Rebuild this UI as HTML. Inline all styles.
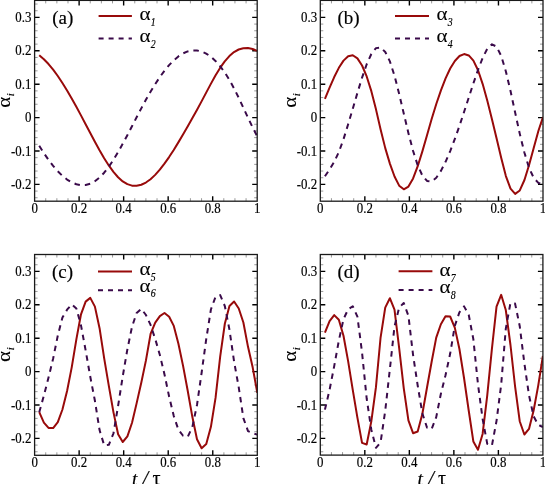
<!DOCTYPE html><html><head><meta charset="utf-8"><style>html,body{margin:0;padding:0;background:#fff;overflow:hidden}svg{display:block}text{font-family:"Liberation Serif",serif;fill:#000}.tk{stroke:#000;stroke-width:0.18px}.lb{stroke:#000;stroke-width:0.08px}</style></head><body>
<svg width="545" height="484" viewBox="0 0 545 484">
<rect width="545" height="484" fill="#fff"/>
<g><clipPath id="clipa"><rect x="34.6" y="0.4" width="222.60" height="200.80"/></clipPath><path d="M45.73,201.2v-3M45.73,0.4v3M56.86,201.2v-3M56.86,0.4v3M67.99,201.2v-3M67.99,0.4v3M90.25,201.2v-3M90.25,0.4v3M101.38,201.2v-3M101.38,0.4v3M112.51,201.2v-3M112.51,0.4v3M134.77,201.2v-3M134.77,0.4v3M145.90,201.2v-3M145.90,0.4v3M157.03,201.2v-3M157.03,0.4v3M179.29,201.2v-3M179.29,0.4v3M190.42,201.2v-3M190.42,0.4v3M201.55,201.2v-3M201.55,0.4v3M223.81,201.2v-3M223.81,0.4v3M234.94,201.2v-3M234.94,0.4v3M246.07,201.2v-3M246.07,0.4v3M34.6,197.76h3M257.2,197.76h-3M34.6,191.08h3M257.2,191.08h-3M34.6,177.72h3M257.2,177.72h-3M34.6,171.04h3M257.2,171.04h-3M34.6,164.36h3M257.2,164.36h-3M34.6,157.68h3M257.2,157.68h-3M34.6,144.32h3M257.2,144.32h-3M34.6,137.64h3M257.2,137.64h-3M34.6,130.96h3M257.2,130.96h-3M34.6,124.28h3M257.2,124.28h-3M34.6,110.92h3M257.2,110.92h-3M34.6,104.24h3M257.2,104.24h-3M34.6,97.56h3M257.2,97.56h-3M34.6,90.88h3M257.2,90.88h-3M34.6,77.52h3M257.2,77.52h-3M34.6,70.84h3M257.2,70.84h-3M34.6,64.16h3M257.2,64.16h-3M34.6,57.48h3M257.2,57.48h-3M34.6,44.12h3M257.2,44.12h-3M34.6,37.44h3M257.2,37.44h-3M34.6,30.76h3M257.2,30.76h-3M34.6,24.08h3M257.2,24.08h-3M34.6,10.72h3M257.2,10.72h-3M34.6,4.04h3M257.2,4.04h-3" stroke="#9a9a9a" stroke-width="1" fill="none"/><path d="M79.12,201.2v-5M79.12,0.4v5M123.64,201.2v-5M123.64,0.4v5M168.16,201.2v-5M168.16,0.4v5M212.68,201.2v-5M212.68,0.4v5M34.6,184.40h5M257.2,184.40h-5M34.6,151.00h5M257.2,151.00h-5M34.6,117.60h5M257.2,117.60h-5M34.6,84.20h5M257.2,84.20h-5M34.6,50.80h5M257.2,50.80h-5M34.6,17.40h5M257.2,17.40h-5" stroke="#000" stroke-width="1.4" fill="none"/><polyline clip-path="url(#clipa)" points="39.23,55.31 43.88,59.25 48.51,64.06 53.14,69.67 57.79,76.02 62.42,83.00 67.06,90.48 71.71,98.46 76.34,106.78 80.97,115.40 85.62,124.18 90.25,133.03 94.88,141.78 99.53,150.23 104.16,158.18 108.79,165.46 113.44,171.88 118.07,177.25 122.71,181.39 127.36,184.17 131.99,185.64 136.62,185.80 141.27,184.77 145.90,182.53 150.53,179.19 155.18,174.88 159.81,169.67 164.44,163.69 169.09,157.08 173.72,149.93 178.36,142.38 183.01,134.57 187.64,126.55 192.27,118.33 196.92,109.98 201.55,101.40 206.18,92.62 210.83,83.87 215.46,75.55 220.09,67.93 224.74,61.39 229.38,56.08 234.01,52.07 238.66,49.50 243.29,48.19 247.92,48.09 252.57,49.03 257.20,50.93" fill="none" stroke="#980a0a" stroke-width="2" stroke-linejoin="round"/><polyline clip-path="url(#clipa)" points="39.23,145.82 43.88,153.17 48.51,159.88 53.14,165.93 57.79,171.27 62.42,175.82 67.06,179.52 71.71,182.33 76.34,184.23 80.97,185.10 85.62,184.93 90.25,183.67 94.88,181.23 99.53,177.59 104.16,172.71 108.79,166.73 113.44,159.82 118.07,152.14 122.71,143.85 127.36,135.17 131.99,126.25 136.62,117.27 141.27,108.41 145.90,99.83 150.53,91.68 155.18,84.10 159.81,77.12 164.44,70.77 169.09,65.16 173.72,60.39 178.36,56.44 183.01,53.44 187.64,51.43 192.27,50.43 196.92,50.43 201.55,51.47 206.18,53.57 210.83,56.68 215.46,60.89 220.09,66.13 224.74,72.44 229.38,79.86 234.01,88.34 238.66,97.69 243.29,107.58 247.92,117.53 252.57,127.22 257.20,136.27" fill="none" stroke="#3a0a4a" stroke-width="2" stroke-dasharray="5.5 5" stroke-linejoin="round"/><rect x="34.6" y="0.4" width="222.60" height="200.80" fill="none" stroke="#1a1a1a" stroke-width="1.3"/><line x1="98.6" y1="16.0" x2="131.9" y2="16.0" stroke="#980a0a" stroke-width="2"/><line x1="98.6" y1="38.6" x2="131.9" y2="38.6" stroke="#3a0a4a" stroke-width="2" stroke-dasharray="5 5"/></g>
<g><clipPath id="clipb"><rect x="320.3" y="0.4" width="222.70" height="200.80"/></clipPath><path d="M331.44,201.2v-3M331.44,0.4v3M342.57,201.2v-3M342.57,0.4v3M353.71,201.2v-3M353.71,0.4v3M375.98,201.2v-3M375.98,0.4v3M387.11,201.2v-3M387.11,0.4v3M398.25,201.2v-3M398.25,0.4v3M420.51,201.2v-3M420.51,0.4v3M431.65,201.2v-3M431.65,0.4v3M442.79,201.2v-3M442.79,0.4v3M465.06,201.2v-3M465.06,0.4v3M476.19,201.2v-3M476.19,0.4v3M487.32,201.2v-3M487.32,0.4v3M509.60,201.2v-3M509.60,0.4v3M520.73,201.2v-3M520.73,0.4v3M531.87,201.2v-3M531.87,0.4v3M320.3,197.76h3M543.0,197.76h-3M320.3,191.08h3M543.0,191.08h-3M320.3,177.72h3M543.0,177.72h-3M320.3,171.04h3M543.0,171.04h-3M320.3,164.36h3M543.0,164.36h-3M320.3,157.68h3M543.0,157.68h-3M320.3,144.32h3M543.0,144.32h-3M320.3,137.64h3M543.0,137.64h-3M320.3,130.96h3M543.0,130.96h-3M320.3,124.28h3M543.0,124.28h-3M320.3,110.92h3M543.0,110.92h-3M320.3,104.24h3M543.0,104.24h-3M320.3,97.56h3M543.0,97.56h-3M320.3,90.88h3M543.0,90.88h-3M320.3,77.52h3M543.0,77.52h-3M320.3,70.84h3M543.0,70.84h-3M320.3,64.16h3M543.0,64.16h-3M320.3,57.48h3M543.0,57.48h-3M320.3,44.12h3M543.0,44.12h-3M320.3,37.44h3M543.0,37.44h-3M320.3,30.76h3M543.0,30.76h-3M320.3,24.08h3M543.0,24.08h-3M320.3,10.72h3M543.0,10.72h-3M320.3,4.04h3M543.0,4.04h-3" stroke="#9a9a9a" stroke-width="1" fill="none"/><path d="M364.84,201.2v-5M364.84,0.4v5M409.38,201.2v-5M409.38,0.4v5M453.92,201.2v-5M453.92,0.4v5M498.46,201.2v-5M498.46,0.4v5M320.3,184.40h5M543.0,184.40h-5M320.3,151.00h5M543.0,151.00h-5M320.3,117.60h5M543.0,117.60h-5M320.3,84.20h5M543.0,84.20h-5M320.3,50.80h5M543.0,50.80h-5M320.3,17.40h5M543.0,17.40h-5" stroke="#000" stroke-width="1.4" fill="none"/><polyline clip-path="url(#clipb)" points="324.93,98.83 329.59,87.64 334.22,77.05 338.85,67.83 343.51,60.65 348.14,56.24 352.77,55.28 357.42,58.38 362.06,65.50 366.69,76.48 371.34,91.15 375.98,109.35 380.61,129.52 385.26,148.13 389.89,163.59 394.53,176.52 399.18,185.67 403.81,189.31 408.44,186.54 413.10,178.39 417.73,166.20 422.36,151.33 427.02,135.17 431.65,119.04 436.28,103.97 440.94,90.35 445.57,78.42 450.20,68.54 454.86,60.99 459.49,56.04 464.12,54.07 468.77,55.44 473.41,60.65 478.04,70.24 482.69,84.07 487.32,100.83 491.96,119.14 496.61,138.41 501.24,158.08 505.88,176.08 510.53,188.68 515.16,193.85 519.79,190.45 524.45,180.02 529.08,165.03 533.71,147.89 538.37,131.06 543.00,116.97" fill="none" stroke="#980a0a" stroke-width="2" stroke-linejoin="round"/><polyline clip-path="url(#clipb)" points="324.93,176.28 329.59,169.47 334.22,161.85 338.85,152.07 343.51,139.18 348.14,124.31 352.77,108.72 357.42,92.88 362.06,77.65 366.69,64.26 371.34,53.97 375.98,48.13 380.61,47.46 385.26,51.94 389.89,61.42 394.53,75.82 399.18,94.02 403.81,113.73 408.44,133.16 413.10,150.97 417.73,165.40 422.36,175.55 427.02,180.96 431.65,181.43 436.28,177.79 440.94,170.91 445.57,161.79 450.20,151.07 454.86,138.98 459.49,125.78 464.12,111.79 468.77,97.49 473.41,83.30 478.04,69.77 482.69,57.81 487.32,48.63 491.96,44.29 496.61,46.66 501.24,55.98 505.88,71.44 510.53,91.08 515.16,112.66 519.79,133.87 524.45,152.80 529.08,167.87 533.71,177.89 538.37,182.90 543.00,183.80" fill="none" stroke="#3a0a4a" stroke-width="2" stroke-dasharray="5.5 5" stroke-linejoin="round"/><rect x="320.3" y="0.4" width="222.70" height="200.80" fill="none" stroke="#1a1a1a" stroke-width="1.3"/><line x1="395.0" y1="16.0" x2="429.0" y2="16.0" stroke="#980a0a" stroke-width="2"/><line x1="395.0" y1="38.6" x2="429.0" y2="38.6" stroke="#3a0a4a" stroke-width="2" stroke-dasharray="5 5"/></g>
<g><clipPath id="clipc"><rect x="34.6" y="254.5" width="222.70" height="200.80"/></clipPath><path d="M45.73,455.3v-3M45.73,254.5v3M56.87,455.3v-3M56.87,254.5v3M68.01,455.3v-3M68.01,254.5v3M90.28,455.3v-3M90.28,254.5v3M101.41,455.3v-3M101.41,254.5v3M112.55,455.3v-3M112.55,254.5v3M134.81,455.3v-3M134.81,254.5v3M145.95,455.3v-3M145.95,254.5v3M157.09,455.3v-3M157.09,254.5v3M179.36,455.3v-3M179.36,254.5v3M190.49,455.3v-3M190.49,254.5v3M201.62,455.3v-3M201.62,254.5v3M223.90,455.3v-3M223.90,254.5v3M235.03,455.3v-3M235.03,254.5v3M246.17,455.3v-3M246.17,254.5v3M34.6,451.76h3M257.3,451.76h-3M34.6,445.08h3M257.3,445.08h-3M34.6,431.72h3M257.3,431.72h-3M34.6,425.04h3M257.3,425.04h-3M34.6,418.36h3M257.3,418.36h-3M34.6,411.68h3M257.3,411.68h-3M34.6,398.32h3M257.3,398.32h-3M34.6,391.64h3M257.3,391.64h-3M34.6,384.96h3M257.3,384.96h-3M34.6,378.28h3M257.3,378.28h-3M34.6,364.92h3M257.3,364.92h-3M34.6,358.24h3M257.3,358.24h-3M34.6,351.56h3M257.3,351.56h-3M34.6,344.88h3M257.3,344.88h-3M34.6,331.52h3M257.3,331.52h-3M34.6,324.84h3M257.3,324.84h-3M34.6,318.16h3M257.3,318.16h-3M34.6,311.48h3M257.3,311.48h-3M34.6,298.12h3M257.3,298.12h-3M34.6,291.44h3M257.3,291.44h-3M34.6,284.76h3M257.3,284.76h-3M34.6,278.08h3M257.3,278.08h-3M34.6,264.72h3M257.3,264.72h-3M34.6,258.04h3M257.3,258.04h-3" stroke="#9a9a9a" stroke-width="1" fill="none"/><path d="M79.14,455.3v-5M79.14,254.5v5M123.68,455.3v-5M123.68,254.5v5M168.22,455.3v-5M168.22,254.5v5M212.76,455.3v-5M212.76,254.5v5M34.6,438.40h5M257.3,438.40h-5M34.6,405.00h5M257.3,405.00h-5M34.6,371.60h5M257.3,371.60h-5M34.6,338.20h5M257.3,338.20h-5M34.6,304.80h5M257.3,304.80h-5M34.6,271.40h5M257.3,271.40h-5" stroke="#000" stroke-width="1.4" fill="none"/><polyline clip-path="url(#clipc)" points="39.23,412.11 43.89,422.54 48.52,427.91 53.15,428.01 57.81,422.17 62.44,409.51 67.07,390.97 71.72,367.36 76.36,339.44 80.99,314.29 85.64,301.63 90.28,297.89 94.91,306.64 99.56,328.21 104.19,358.47 108.83,385.86 113.48,412.35 118.11,434.26 122.74,442.01 127.40,436.36 132.03,422.70 136.66,403.13 141.32,382.52 145.95,360.38 150.58,333.96 155.24,322.64 159.87,316.09 164.50,313.02 169.16,316.72 173.79,325.91 178.42,343.74 183.07,365.86 187.71,390.74 192.34,416.82 196.99,439.20 201.62,448.25 206.26,444.08 210.91,426.84 215.54,397.92 220.18,356.67 224.83,323.74 229.46,306.00 234.09,301.56 238.75,308.47 243.38,322.50 248.01,346.82 252.67,367.32 257.30,392.91" fill="none" stroke="#980a0a" stroke-width="2" stroke-linejoin="round"/><polyline clip-path="url(#clipc)" points="39.23,412.25 43.89,395.61 48.52,377.55 53.15,358.44 57.81,335.49 62.44,317.46 67.07,309.71 71.72,304.33 76.36,308.47 80.99,325.34 85.64,350.39 90.28,376.78 94.91,400.79 99.56,430.08 104.19,445.35 108.83,444.81 113.48,433.26 118.11,405.87 122.74,376.34 127.40,349.19 132.03,326.71 136.66,312.92 141.32,308.84 145.95,315.02 150.58,324.94 155.24,339.00 159.87,355.00 164.50,374.41 169.16,396.78 173.79,416.06 178.42,429.75 183.07,435.76 187.71,436.86 192.34,427.04 196.99,405.00 201.62,372.74 206.26,338.93 210.91,309.51 215.54,296.78 220.18,295.08 224.83,306.04 229.46,329.65 234.09,361.51 238.75,387.43 243.38,418.09 248.01,431.05 252.67,433.16 257.30,434.63" fill="none" stroke="#3a0a4a" stroke-width="2" stroke-dasharray="5.5 5" stroke-linejoin="round"/><rect x="34.6" y="254.5" width="222.70" height="200.80" fill="none" stroke="#1a1a1a" stroke-width="1.3"/><line x1="98.0" y1="271.6" x2="132.0" y2="271.6" stroke="#980a0a" stroke-width="2"/><line x1="98.0" y1="290.3" x2="132.0" y2="290.3" stroke="#3a0a4a" stroke-width="2" stroke-dasharray="5 5"/></g>
<g><clipPath id="clipd"><rect x="320.3" y="254.5" width="222.60" height="200.60"/></clipPath><path d="M331.43,455.1v-3M331.43,254.5v3M342.56,455.1v-3M342.56,254.5v3M353.69,455.1v-3M353.69,254.5v3M375.95,455.1v-3M375.95,254.5v3M387.08,455.1v-3M387.08,254.5v3M398.21,455.1v-3M398.21,254.5v3M420.47,455.1v-3M420.47,254.5v3M431.60,455.1v-3M431.60,254.5v3M442.73,455.1v-3M442.73,254.5v3M464.99,455.1v-3M464.99,254.5v3M476.12,455.1v-3M476.12,254.5v3M487.25,455.1v-3M487.25,254.5v3M509.51,455.1v-3M509.51,254.5v3M520.64,455.1v-3M520.64,254.5v3M531.77,455.1v-3M531.77,254.5v3M320.3,451.76h3M542.9,451.76h-3M320.3,445.08h3M542.9,445.08h-3M320.3,431.72h3M542.9,431.72h-3M320.3,425.04h3M542.9,425.04h-3M320.3,418.36h3M542.9,418.36h-3M320.3,411.68h3M542.9,411.68h-3M320.3,398.32h3M542.9,398.32h-3M320.3,391.64h3M542.9,391.64h-3M320.3,384.96h3M542.9,384.96h-3M320.3,378.28h3M542.9,378.28h-3M320.3,364.92h3M542.9,364.92h-3M320.3,358.24h3M542.9,358.24h-3M320.3,351.56h3M542.9,351.56h-3M320.3,344.88h3M542.9,344.88h-3M320.3,331.52h3M542.9,331.52h-3M320.3,324.84h3M542.9,324.84h-3M320.3,318.16h3M542.9,318.16h-3M320.3,311.48h3M542.9,311.48h-3M320.3,298.12h3M542.9,298.12h-3M320.3,291.44h3M542.9,291.44h-3M320.3,284.76h3M542.9,284.76h-3M320.3,278.08h3M542.9,278.08h-3M320.3,264.72h3M542.9,264.72h-3M320.3,258.04h3M542.9,258.04h-3" stroke="#9a9a9a" stroke-width="1" fill="none"/><path d="M364.82,455.1v-5M364.82,254.5v5M409.34,455.1v-5M409.34,254.5v5M453.86,455.1v-5M453.86,254.5v5M498.38,455.1v-5M498.38,254.5v5M320.3,438.40h5M542.9,438.40h-5M320.3,405.00h5M542.9,405.00h-5M320.3,371.60h5M542.9,371.60h-5M320.3,338.20h5M542.9,338.20h-5M320.3,304.80h5M542.9,304.80h-5M320.3,271.40h5M542.9,271.40h-5" stroke="#000" stroke-width="1.4" fill="none"/><polyline clip-path="url(#clipd)" points="324.93,332.62 329.58,321.03 334.21,315.09 338.84,319.73 343.49,335.76 348.12,361.15 352.76,389.87 357.41,417.69 362.04,442.88 366.67,444.45 371.32,421.37 375.95,387.16 380.58,337.53 385.23,307.57 389.86,298.19 394.49,309.54 399.14,347.89 403.77,388.37 408.41,420.30 413.06,433.19 417.69,431.45 422.32,413.95 426.97,387.80 431.60,362.01 436.23,337.57 440.88,324.21 445.51,316.29 450.14,316.49 454.79,327.61 459.42,349.02 464.06,378.25 468.71,410.51 473.34,441.41 477.97,449.79 482.62,433.96 487.25,395.35 491.88,349.22 496.53,306.67 501.16,294.81 505.79,310.04 510.44,344.75 515.08,386.46 519.71,421.23 524.36,434.49 528.99,428.91 533.62,410.54 538.27,385.36 542.90,356.00" fill="none" stroke="#980a0a" stroke-width="2" stroke-linejoin="round"/><polyline clip-path="url(#clipd)" points="324.93,409.64 329.58,389.74 334.21,366.09 338.84,340.60 343.49,319.13 348.12,309.38 352.76,306.20 357.41,316.59 362.04,352.46 366.67,398.52 371.32,429.72 375.95,447.79 380.58,442.41 385.23,410.81 389.86,369.16 394.49,326.51 399.14,307.64 403.77,303.00 408.41,315.79 413.06,354.87 417.69,385.49 422.32,413.22 426.97,427.48 431.60,429.11 436.23,417.09 440.88,393.74 445.51,375.27 450.14,353.80 454.79,325.84 459.42,312.28 464.06,306.37 468.71,314.69 473.34,339.17 477.97,384.26 482.62,418.96 487.25,443.84 491.88,445.75 496.53,420.83 501.16,384.76 505.79,328.75 510.44,303.00 515.08,303.60 519.71,325.98 524.36,363.28 528.99,395.25 533.62,416.32 538.27,424.84 542.90,427.14" fill="none" stroke="#3a0a4a" stroke-width="2" stroke-dasharray="5.5 5" stroke-linejoin="round"/><rect x="320.3" y="254.5" width="222.60" height="200.60" fill="none" stroke="#1a1a1a" stroke-width="1.3"/><line x1="398.6" y1="271.3" x2="432.4" y2="271.3" stroke="#980a0a" stroke-width="2"/><line x1="398.6" y1="290.0" x2="432.4" y2="290.0" stroke="#3a0a4a" stroke-width="2" stroke-dasharray="5 5"/></g>
<g style="filter:grayscale(1)"><text transform="translate(34.60,212.80) scale(0.92,1)" class="tk" font-size="14" text-anchor="middle">0</text><text transform="translate(79.12,212.80) scale(0.92,1)" class="tk" font-size="14" text-anchor="middle">0.2</text><text transform="translate(123.64,212.80) scale(0.92,1)" class="tk" font-size="14" text-anchor="middle">0.4</text><text transform="translate(168.16,212.80) scale(0.92,1)" class="tk" font-size="14" text-anchor="middle">0.6</text><text transform="translate(212.68,212.80) scale(0.92,1)" class="tk" font-size="14" text-anchor="middle">0.8</text><text transform="translate(257.20,212.80) scale(0.92,1)" class="tk" font-size="14" text-anchor="middle">1</text><text transform="translate(31.40,189.00) scale(0.92,1)" class="tk" font-size="14" text-anchor="end">-0.2</text><text transform="translate(31.40,155.60) scale(0.92,1)" class="tk" font-size="14" text-anchor="end">-0.1</text><text transform="translate(31.40,122.20) scale(0.92,1)" class="tk" font-size="14" text-anchor="end">0</text><text transform="translate(31.40,88.80) scale(0.92,1)" class="tk" font-size="14" text-anchor="end">0.1</text><text transform="translate(31.40,55.40) scale(0.92,1)" class="tk" font-size="14" text-anchor="end">0.2</text><text transform="translate(31.40,22.00) scale(0.92,1)" class="tk" font-size="14" text-anchor="end">0.3</text><g transform="translate(10.00,107.80) rotate(-90)"><text transform="scale(1.17,1)" class="lb" font-size="18">&#945;</text><text x="11.54" y="4.3" font-size="11" font-style="italic" class="tk">i</text></g><text x="52.3" y="24.0" font-size="19" class="tk">(a)</text><g transform="translate(139.50,20.10)"><text transform="scale(1.17,1)" class="lb" font-size="18">&#945;</text><text transform="translate(11.3,5.6) scale(0.85,1)" font-size="11.5" font-style="italic" class="tk">1</text></g><g transform="translate(139.50,41.90)"><text transform="scale(1.17,1)" class="lb" font-size="18">&#945;</text><text transform="translate(11.3,5.6) scale(0.85,1)" font-size="11.5" font-style="italic" class="tk">2</text></g><text transform="translate(320.30,212.80) scale(0.92,1)" class="tk" font-size="14" text-anchor="middle">0</text><text transform="translate(364.84,212.80) scale(0.92,1)" class="tk" font-size="14" text-anchor="middle">0.2</text><text transform="translate(409.38,212.80) scale(0.92,1)" class="tk" font-size="14" text-anchor="middle">0.4</text><text transform="translate(453.92,212.80) scale(0.92,1)" class="tk" font-size="14" text-anchor="middle">0.6</text><text transform="translate(498.46,212.80) scale(0.92,1)" class="tk" font-size="14" text-anchor="middle">0.8</text><text transform="translate(543.00,212.80) scale(0.92,1)" class="tk" font-size="14" text-anchor="middle">1</text><text transform="translate(317.10,189.00) scale(0.92,1)" class="tk" font-size="14" text-anchor="end">-0.2</text><text transform="translate(317.10,155.60) scale(0.92,1)" class="tk" font-size="14" text-anchor="end">-0.1</text><text transform="translate(317.10,122.20) scale(0.92,1)" class="tk" font-size="14" text-anchor="end">0</text><text transform="translate(317.10,88.80) scale(0.92,1)" class="tk" font-size="14" text-anchor="end">0.1</text><text transform="translate(317.10,55.40) scale(0.92,1)" class="tk" font-size="14" text-anchor="end">0.2</text><text transform="translate(317.10,22.00) scale(0.92,1)" class="tk" font-size="14" text-anchor="end">0.3</text><g transform="translate(295.70,107.80) rotate(-90)"><text transform="scale(1.17,1)" class="lb" font-size="18">&#945;</text><text x="11.54" y="4.3" font-size="11" font-style="italic" class="tk">i</text></g><text x="337.4" y="24.0" font-size="19" class="tk">(b)</text><g transform="translate(436.50,19.90)"><text transform="scale(1.17,1)" class="lb" font-size="18">&#945;</text><text transform="translate(11.3,5.6) scale(0.85,1)" font-size="11.5" font-style="italic" class="tk">3</text></g><g transform="translate(436.50,41.90)"><text transform="scale(1.17,1)" class="lb" font-size="18">&#945;</text><text transform="translate(11.3,5.6) scale(0.85,1)" font-size="11.5" font-style="italic" class="tk">4</text></g><text transform="translate(34.60,466.90) scale(0.92,1)" class="tk" font-size="14" text-anchor="middle">0</text><text transform="translate(79.14,466.90) scale(0.92,1)" class="tk" font-size="14" text-anchor="middle">0.2</text><text transform="translate(123.68,466.90) scale(0.92,1)" class="tk" font-size="14" text-anchor="middle">0.4</text><text transform="translate(168.22,466.90) scale(0.92,1)" class="tk" font-size="14" text-anchor="middle">0.6</text><text transform="translate(212.76,466.90) scale(0.92,1)" class="tk" font-size="14" text-anchor="middle">0.8</text><text transform="translate(257.30,466.90) scale(0.92,1)" class="tk" font-size="14" text-anchor="middle">1</text><text transform="translate(31.40,443.00) scale(0.92,1)" class="tk" font-size="14" text-anchor="end">-0.2</text><text transform="translate(31.40,409.60) scale(0.92,1)" class="tk" font-size="14" text-anchor="end">-0.1</text><text transform="translate(31.40,376.20) scale(0.92,1)" class="tk" font-size="14" text-anchor="end">0</text><text transform="translate(31.40,342.80) scale(0.92,1)" class="tk" font-size="14" text-anchor="end">0.1</text><text transform="translate(31.40,309.40) scale(0.92,1)" class="tk" font-size="14" text-anchor="end">0.2</text><text transform="translate(31.40,276.00) scale(0.92,1)" class="tk" font-size="14" text-anchor="end">0.3</text><g transform="translate(10.00,361.90) rotate(-90)"><text transform="scale(1.17,1)" class="lb" font-size="18">&#945;</text><text x="11.54" y="4.3" font-size="11" font-style="italic" class="tk">i</text></g><text x="51.9" y="277.7" font-size="19" class="tk">(c)</text><g transform="translate(139.50,275.00)"><text transform="scale(1.17,1)" class="lb" font-size="18">&#945;</text><text transform="translate(11.3,5.6) scale(0.85,1)" font-size="11.5" font-style="italic" class="tk">5</text></g><g transform="translate(139.50,291.70)"><text transform="scale(1.17,1)" class="lb" font-size="18">&#945;</text><text transform="translate(11.3,5.6) scale(0.85,1)" font-size="11.5" font-style="italic" class="tk">6</text></g><text x="131.95" y="484.6" font-size="19.5" font-style="italic" class="tk">t</text><text x="142.55" y="484.6" font-size="20.5" font-style="italic" class="tk">/</text><text x="152.45" y="484.6" font-size="20" class="tk">&#964;</text><text transform="translate(320.30,466.70) scale(0.92,1)" class="tk" font-size="14" text-anchor="middle">0</text><text transform="translate(364.82,466.70) scale(0.92,1)" class="tk" font-size="14" text-anchor="middle">0.2</text><text transform="translate(409.34,466.70) scale(0.92,1)" class="tk" font-size="14" text-anchor="middle">0.4</text><text transform="translate(453.86,466.70) scale(0.92,1)" class="tk" font-size="14" text-anchor="middle">0.6</text><text transform="translate(498.38,466.70) scale(0.92,1)" class="tk" font-size="14" text-anchor="middle">0.8</text><text transform="translate(542.90,466.70) scale(0.92,1)" class="tk" font-size="14" text-anchor="middle">1</text><text transform="translate(317.10,443.00) scale(0.92,1)" class="tk" font-size="14" text-anchor="end">-0.2</text><text transform="translate(317.10,409.60) scale(0.92,1)" class="tk" font-size="14" text-anchor="end">-0.1</text><text transform="translate(317.10,376.20) scale(0.92,1)" class="tk" font-size="14" text-anchor="end">0</text><text transform="translate(317.10,342.80) scale(0.92,1)" class="tk" font-size="14" text-anchor="end">0.1</text><text transform="translate(317.10,309.40) scale(0.92,1)" class="tk" font-size="14" text-anchor="end">0.2</text><text transform="translate(317.10,276.00) scale(0.92,1)" class="tk" font-size="14" text-anchor="end">0.3</text><g transform="translate(295.70,361.80) rotate(-90)"><text transform="scale(1.17,1)" class="lb" font-size="18">&#945;</text><text x="11.54" y="4.3" font-size="11" font-style="italic" class="tk">i</text></g><text x="337.4" y="277.7" font-size="19" class="tk">(d)</text><g transform="translate(439.50,276.10)"><text transform="scale(1.17,1)" class="lb" font-size="18">&#945;</text><text transform="translate(11.3,5.6) scale(0.85,1)" font-size="11.5" font-style="italic" class="tk">7</text></g><g transform="translate(439.50,293.20)"><text transform="scale(1.17,1)" class="lb" font-size="18">&#945;</text><text transform="translate(11.3,5.6) scale(0.85,1)" font-size="11.5" font-style="italic" class="tk">8</text></g><text x="417.60" y="484.6" font-size="19.5" font-style="italic" class="tk">t</text><text x="428.20" y="484.6" font-size="20.5" font-style="italic" class="tk">/</text><text x="438.10" y="484.6" font-size="20" class="tk">&#964;</text></g>
</svg></body></html>
